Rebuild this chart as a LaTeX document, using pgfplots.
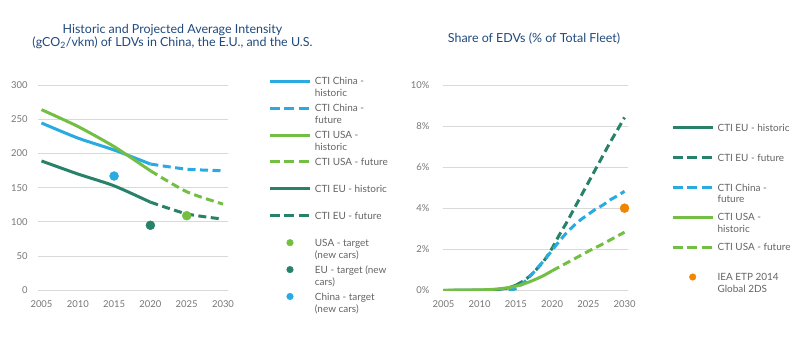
\documentclass[border=0pt]{standalone}
\usepackage{pgfplots}
\pgfplotsset{compat=1.18}
\usepackage{fontspec}
\setmainfont{Lato}
\definecolor{cchina}{RGB}{41,171,226}
\definecolor{cusa}{RGB}{114,191,68}
\definecolor{ceu}{RGB}{40,130,105}
\definecolor{ciea}{RGB}{242,133,0}
\definecolor{ctitle}{RGB}{31,73,125}
\definecolor{ctick}{RGB}{118,118,118}
\definecolor{clegend}{RGB}{100,100,100}
\definecolor{cgrid}{RGB}{217,217,217}
\newcommand{\lt}[2]{\parbox{85bp}{\strut #1\\\strut #2}}
\pgfplotsset{
  mystyle/.style={
    scale only axis,
    axis line style={draw=none},
    tick style={draw=none},
    ymajorgrids,
    grid style={cgrid, line width=0.8bp},
    xtick={2005,2010,...,2030},
    /pgf/number format/assume math mode=true,
    /pgf/number format/1000 sep={},
    tick label style={font=\fontsize{9.5}{11}\selectfont, text=ctick},
    xticklabel style={inner sep=0pt, yshift=-10.5bp},
    yticklabel style={inner sep=0pt},
    legend cell align=left,
    legend image code/.code={\draw[mark repeat=2,mark phase=2,##1] plot coordinates {(0bp,7.2bp)(20bp,7.2bp)(40bp,7.2bp)};},
  },
  hist/.style={line width=3bp, smooth, tension=0.4},
  fut/.style={line width=3bp, smooth, tension=0.4, dash pattern=on 8bp off 4.5bp},
  dot/.style={only marks, mark=*, mark size=4.5bp},
  ldot/.style={only marks, mark=*, mark size=3.3bp},
}
\begin{document}
\begin{tikzpicture}
\useasboundingbox (0,0) rectangle (800bp,350bp);
% ---------------- Left chart ----------------
\begin{axis}[mystyle,
  at={(38.3bp,59.7bp)}, anchor=south west,
  width=190bp, height=205.3bp,
  xmin=2004.56, xmax=2030.73, ymin=0, ymax=300,
  ytick={0,50,...,300},
  yticklabel style={xshift=-10.6bp},
  legend style={at={(1.2105,1.044)}, anchor=north west, draw=none, fill=none,
    inner sep=0pt, row sep=2.4bp, column sep=3.4bp,
    font=\fontsize{10}{12.3}\selectfont, text=clegend,
    nodes={inner sep=0pt, text depth=, text height=}},
]
\addplot[hist, cchina, forget plot] coordinates {(2005,244.5)(2010,222.5)(2015,205)(2020,184.5)};
\addplot[fut, cchina, forget plot] coordinates {(2020,184.5)(2025,177)(2030,174.7)};
\addplot[hist, cusa, forget plot] coordinates {(2005,264)(2010,239.5)(2015,210)(2020,174.7)};
\addplot[fut, cusa, forget plot] coordinates {(2020,174.7)(2025,144)(2030,126)};
\addplot[hist, ceu, forget plot] coordinates {(2005,189)(2010,170)(2015,152.7)(2020,128.8)};
\addplot[fut, ceu, forget plot] coordinates {(2020,128.8)(2025,111.7)(2030,104)};
\addplot[dot, cusa, forget plot] coordinates {(2025,109)};
\addplot[dot, ceu, forget plot] coordinates {(2020,95)};
\addplot[dot, cchina, forget plot] coordinates {(2015,167)};
\addlegendimage{line width=3bp, cchina}
\addlegendentry{\lt{CTI China -}{historic}}
\addlegendimage{line width=3bp, cchina, dash pattern=on 10bp off 4.5bp}
\addlegendentry{\lt{CTI China -}{future}}
\addlegendimage{line width=3bp, cusa}
\addlegendentry{\lt{CTI USA -}{historic}}
\addlegendimage{line width=3bp, cusa, dash pattern=on 10bp off 4.5bp}
\addlegendentry{\lt{CTI USA - future}{}}
\addlegendimage{line width=3bp, ceu}
\addlegendentry{\lt{CTI EU - historic}{}}
\addlegendimage{line width=3bp, ceu, dash pattern=on 10bp off 4.5bp}
\addlegendentry{\lt{CTI EU - future}{}}
\addlegendimage{ldot, cusa}
\addlegendentry{\lt{USA - target}{(new cars)}}
\addlegendimage{ldot, ceu}
\addlegendentry{\lt{EU - target (new}{cars)}}
\addlegendimage{ldot, cchina}
\addlegendentry{\lt{China - target}{(new cars)}}
\end{axis}
% ---------------- Right chart ----------------
\begin{axis}[mystyle,
  at={(442.7bp,59.7bp)}, anchor=south west,
  width=185.6bp, height=205.3bp,
  xmin=2004.89, xmax=2030.52, ymin=0, ymax=10,
  ytick={0,2,...,10},
  yticklabel={\pgfmathprintnumber{\tick}\%},
  yticklabel style={xshift=-13bp},
  legend style={at={(1.230,0.815)}, anchor=north west, draw=none, fill=none,
    inner sep=0pt, row sep=7bp, column sep=3.4bp,
    font=\fontsize{10}{11.5}\selectfont, text=clegend,
    nodes={inner sep=0pt, text depth=, text height=}},
]
\addplot[hist, ceu, forget plot] coordinates {(2005,0)(2010,0.01)(2012,0.03)(2013,0.06)(2014,0.12)(2015,0.25)};
\addplot[fut, ceu, forget plot] coordinates {(2015,0.25)(2016,0.45)(2017,0.72)(2018,1.08)(2019,1.5)(2020,2.05)(2021,2.7)(2022,3.3)(2023,3.95)(2024,4.6)(2025,5.25)(2026,5.9)(2027,6.55)(2028,7.2)(2029,7.8)(2030,8.42)};
\addplot[fut, cchina, forget plot] coordinates {(2014,0)(2015,0.08)(2016,0.35)(2017,0.7)(2018,1.1)(2019,1.5)(2020,1.95)(2021,2.4)(2022,2.8)(2023,3.15)(2024,3.45)(2025,3.7)(2026,3.95)(2027,4.15)(2028,4.4)(2029,4.6)(2030,4.82)};
\addplot[hist, cusa, forget plot] coordinates {(2005,0)(2010,0.02)(2012,0.05)(2014,0.13)(2015,0.2)(2016,0.3)(2017,0.43)(2018,0.58)(2019,0.75)(2020,0.95)};
\addplot[fut, cusa, forget plot] coordinates {(2020,0.95)(2021,1.14)(2022,1.33)(2023,1.52)(2024,1.71)(2025,1.9)(2026,2.08)(2027,2.26)(2028,2.45)(2029,2.64)(2030,2.83)};
\addplot[dot, ciea, forget plot] coordinates {(2030,4.0)};
\addlegendimage{line width=3bp, ceu}
\addlegendentry{\lt{CTI EU - historic}{}}
\addlegendimage{line width=3bp, ceu, dash pattern=on 10bp off 4.5bp}
\addlegendentry{\lt{CTI EU - future}{}}
\addlegendimage{line width=3bp, cchina, dash pattern=on 10bp off 4.5bp}
\addlegendentry{\lt{CTI China -}{future}}
\addlegendimage{line width=3bp, cusa}
\addlegendentry{\lt{CTI USA -}{historic}}
\addlegendimage{line width=3bp, cusa, dash pattern=on 10bp off 4.5bp}
\addlegendentry{\lt{CTI USA - future}{}}
\addlegendimage{ldot, ciea}
\addlegendentry{\lt{IEA ETP 2014}{Global 2DS}}
\end{axis}
% ---------------- Titles ----------------
\node[align=center, text=ctitle, font=\fontsize{12.5}{13.3}\selectfont] at (172.5bp,313.3bp)
  {Historic and Projected Average Intensity\\(gCO\textsubscript{2}/vkm) of LDVs in China, the E.U., and the U.S.};
\node[text=ctitle, font=\fontsize{12.5}{13.3}\selectfont] at (534bp,311bp) {Share of EDVs (\% of Total Fleet)};
\end{tikzpicture}
\end{document}
